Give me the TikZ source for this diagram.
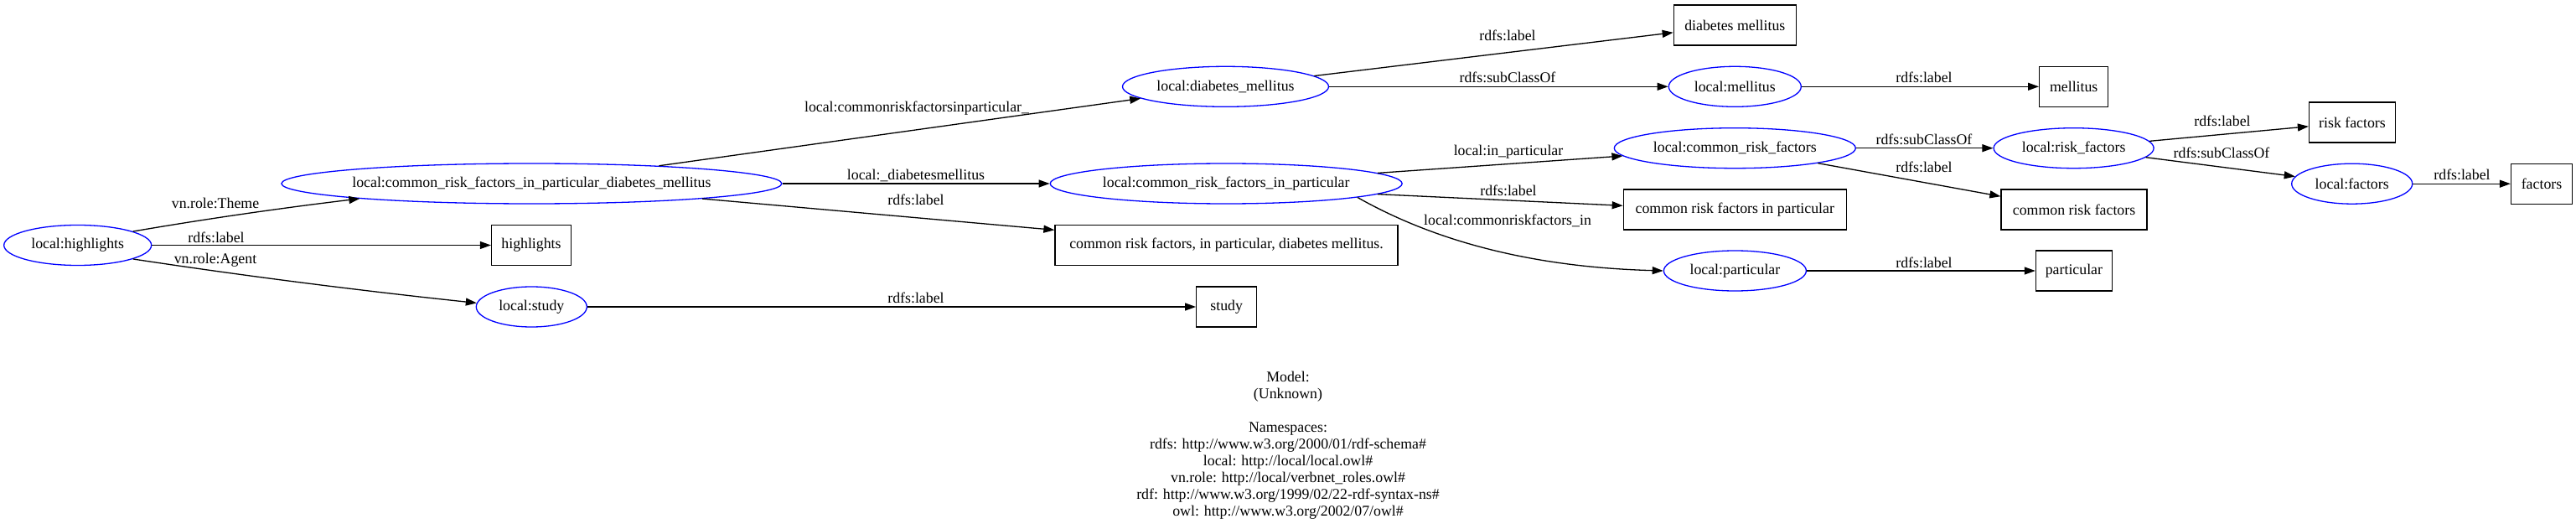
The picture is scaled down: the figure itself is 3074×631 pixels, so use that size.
\documentclass[tikz,border=0pt]{standalone}
\usepackage{fontspec}
\setmainfont{Liberation Serif}
\usepackage{tikz}
\usetikzlibrary{arrows.meta,shapes.geometric}
\definecolor{ink}{HTML}{000000}
\definecolor{resblue}{HTML}{0000FF}
\newcommand\gvfont{\fontsize{17.8}{20}\selectfont}

\begin{document}
\begin{tikzpicture}[x=1pt,y=-1pt,
  every node/.style={font=\gvfont,text=ink},
  uri/.style={ellipse,draw=resblue,line width=1.3pt,inner sep=0pt,minimum height=48pt},
  lit/.style={rectangle,draw=ink,line width=1.3pt,inner sep=0pt,minimum height=48pt},
  rel/.style={draw=ink,line width=1.3pt,-{Triangle[length=13pt,width=9pt]}},
  lbl/.style={anchor=base,inner sep=0pt}]
  \useasboundingbox (0,0) rectangle (3074,631);
  % resources
  \node[uri,minimum width=176pt] (hl) at (92.7,292.5) {local:highlights};
  \node[uri,minimum width=597pt,inner xsep=-3pt] (crfpdm) at (634.4,219) {local:common\_risk\_factors\_in\_particular\_diabetes\_mellitus};
  \node[uri,minimum width=132pt] (study) at (634.3,366) {local:study};
  \node[uri,minimum width=246pt] (diabmel) at (1462.5,103.3) {local:diabetes\_mellitus};
  \node[uri,minimum width=420pt] (crfip) at (1463.2,219) {local:common\_risk\_factors\_in\_particular};
  \node[uri,minimum width=158pt] (mel) at (2070.3,103.3) {local:mellitus};
  \node[uri,minimum width=288pt] (crf) at (2070.3,176.7) {local:common\_risk\_factors};
  \node[uri,minimum width=170pt] (part) at (2070.4,323) {local:particular};
  \node[uri,minimum width=191pt] (rf) at (2474.6,176.7) {local:risk\_factors};
  \node[uri,minimum width=144pt] (fac) at (2806.7,219.2) {local:factors};
  % literals
  \node[lit,minimum width=95pt] (hlbox) at (634,292.5) {highlights};
  \node[lit,minimum width=409pt] (crfpdmbox) at (1463.5,292.5) {common risk factors, in particular, diabetes mellitus.};
  \node[lit,minimum width=72pt] (studybox) at (1463.7,366) {study};
  \node[lit,minimum width=146pt] (diabmelbox) at (2070.3,30) {diabetes mellitus};
  \node[lit,minimum width=82pt] (melbox) at (2474.7,103.3) {mellitus};
  \node[lit,minimum width=266pt] (crfipbox) at (2070.3,250) {common risk factors in particular};
  \node[lit,minimum width=174pt] (crfbox) at (2475,250) {common risk factors};
  \node[lit,minimum width=103pt] (rfbox) at (2807,146) {risk factors};
  \node[lit,minimum width=73pt] (facbox) at (3033,219.2) {factors};
  \node[lit,minimum width=91pt] (partbox) at (2474.9,323) {particular};
  % edges
  \draw[rel] (hl.14) .. controls (249,260.5) and (341,247.5) .. (crfpdm.185);
  \draw[rel] (hl) -- (hlbox);
  \draw[rel] (hl.-14) .. controls (294,329.5) and (431,346.8) .. (study.176);
  \draw[rel] (crfpdm) -- (diabmel);
  \draw[rel] (crfpdm) -- (crfip);
  \draw[rel] (crfpdm) -- (crfpdmbox);
  \draw[rel] (study) -- (studybox);
  \draw[rel] (diabmel) -- (diabmelbox);
  \draw[rel] (diabmel) -- (mel);
  \draw[rel] (crfip) -- (crf);
  \draw[rel] (crfip.-4.9) -- (crfipbox.178.6);
  \draw[rel] (crfip.-6.5) .. controls (1690,275) and (1800,318) .. (part.west);
  \draw[rel] (mel) -- (melbox);
  \draw[rel] (crf) -- (rf);
  \draw[rel] (crf) -- (crfbox);
  \draw[rel] (part) -- (partbox);
  \draw[rel] (rf) -- (rfbox);
  \draw[rel] (rf) -- (fac);
  \draw[rel] (fac) -- (facbox);
  % edge labels
  \node[lbl] (l-theme) at (257,249) {vn.role:Theme};
  \node[lbl] (l-hl) at (258,289) {rdfs:label};
  \node[lbl] (l-agent) at (257,314) {vn.role:Agent};
  \node[lbl] (l-cip) at (1094,134) {local:commonriskfactorsinparticular\_};
  \node[lbl] (l-dm) at (1093,215) {local:\_diabetesmellitus};
  \node[lbl] (l-crfpdm) at (1093,245) {rdfs:label};
  \node[lbl] (l-study) at (1093,361) {rdfs:label};
  \node[lbl] (l-diabmel) at (1799,49) {rdfs:label};
  \node[lbl] (l-mel) at (1799,99) {rdfs:subClassOf};
  \node[lbl] (l-inpart) at (1800,186) {local:in\_particular};
  \node[lbl] (l-crfipbox) at (1800,234) {rdfs:label};
  \node[lbl] (l-in) at (1799,269) {local:commonriskfactors\_in};
  \node[lbl] (l-melbox) at (2296,99) {rdfs:label};
  \node[lbl] (l-rf) at (2296,173) {rdfs:subClassOf};
  \node[lbl] (l-crfbox) at (2296,206) {rdfs:label};
  \node[lbl] (l-part) at (2296,319) {rdfs:label};
  \node[lbl] (l-rfbox) at (2652,151) {rdfs:label};
  \node[lbl] (l-fac) at (2651,189) {rdfs:subClassOf};
  \node[lbl] (l-facbox) at (2938,215) {rdfs:label};
  % model legend
  \node[align=center] (model) at (1537,531) {Model:\\(Unknown)\\[20pt]Namespaces:\\rdfs: http://www.w3.org/2000/01/rdf-schema\#\\local: http://local/local.owl\#\\vn.role: http://local/verbnet\_roles.owl\#\\rdf: http://www.w3.org/1999/02/22-rdf-syntax-ns\#\\owl: http://www.w3.org/2002/07/owl\#};
\end{tikzpicture}
\end{document}
